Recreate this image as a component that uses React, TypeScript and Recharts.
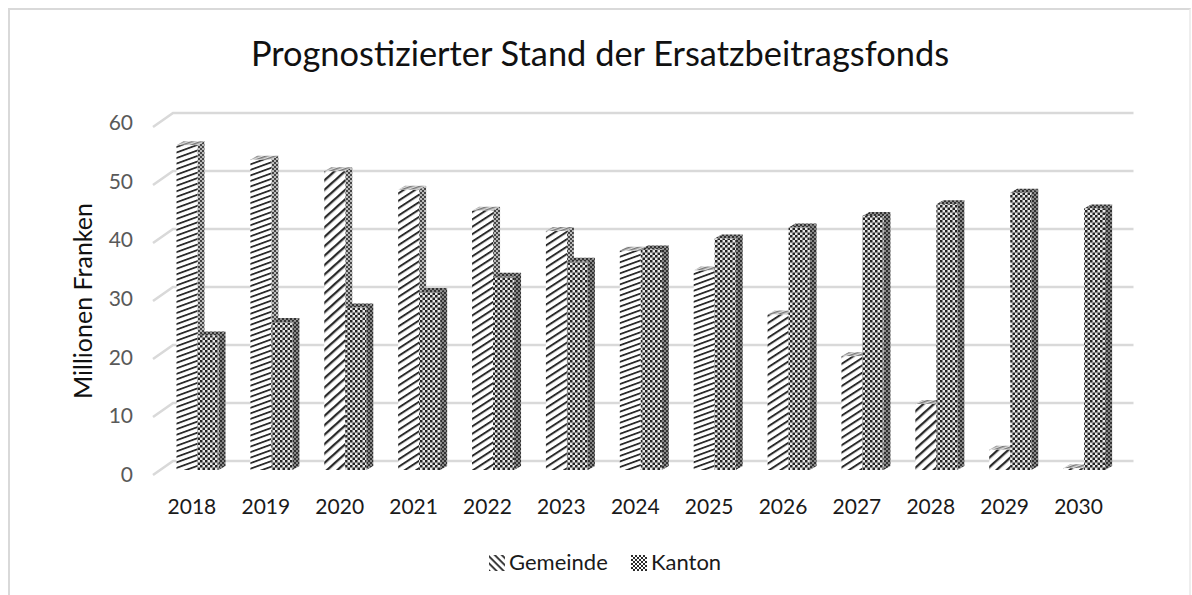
import React from "react";
import { BarChart, Bar, XAxis, YAxis, CartesianGrid, Legend } from "recharts";

const years = ["2018","2019","2020","2021","2022","2023","2024","2025","2026","2027","2028","2029","2030"];
const gemeinde = [56.0,53.5,51.5,48.3,44.7,41.2,37.8,34.4,26.8,19.6,11.4,3.5,0.3];
const kanton = [23.2,25.5,28.0,30.7,33.3,35.9,38.0,39.9,41.8,43.8,45.8,47.8,45.1];
const yTicks = [0,10,20,30,40,50,60];
const titleText = "Prognostizierter Stand der Ersatzbeitragsfonds";
const yTitle = "Millionen Franken";
const seriesNames = ["Gemeinde","Kanton"];

const rows = years.map((year, i) => ({ year, Gemeinde: gemeinde[i], Kanton: kanton[i] }));

const FONT = "Lato, Carlito, sans-serif";
const hatchByIndex = ["a","a","c","b","b","b","a","a","b","b","c","c","c"];
const DX = 7, DY = 4;

const Bar3D = (p: any) => {
  const { x, y, width: w, height: h, index, dataKey } = p;
  if (h == null) return null;
  const isG = dataKey === "Gemeinde";
  const front = isG ? `url(#hatch-${hatchByIndex[index]})` : "url(#checker)";
  const side = isG ? "url(#sideG)" : "url(#sideK)";
  const top = isG ? "url(#topG)" : "url(#sideK)";
  return (
    <g filter="url(#soft)">
      <path d={`M${x},${y}L${x+DX},${y-DY}L${x+w+DX},${y-DY}L${x+w},${y}Z`} fill={top} />
      <path d={`M${x+w},${y}L${x+w+DX},${y-DY}L${x+w+DX},${y+h-DY}L${x+w},${y+h}Z`} fill={side} />
      <rect x={x} y={y} width={w} height={h} fill={front} />
    </g>
  );
};

const GridLine = (p: any) => {
  const { x1, x2, y1 } = p;
  return (
    <path
      d={`M${x1-7.5},${y1+5}L${x1+12.5},${y1-9}L${x2+12.5},${y1-9}`}
      fill="none" stroke="#d9d9d9" strokeWidth={2.6}
    />
  );
};

const YTick = (p: any) => {
  const { y, payload } = p;
  return (
    <text x={133} y={y + 1 + (y - 122) * (4 / 348) + 7} textAnchor="end" fontFamily={FONT} fontSize={21} fill="#595959">
      {payload.value}
    </text>
  );
};

const XTick = (p: any) => {
  const { x, payload } = p;
  return (
    <text x={x - 5.5} y={514} textAnchor="middle" fontFamily={FONT} fontSize={21} fill="#1a1a1a">
      {payload.value}
    </text>
  );
};

const LegendBox = () => (
  <div style={{ position: "relative", height: 30, fontFamily: FONT, fontSize: 22, color: "#1a1a1a" }}>
    <svg width={16} height={16} style={{ position: "absolute", left: 489, top: 7 }}>
      <rect width={16} height={16} fill="url(#legendG)" />
    </svg>
    <span style={{ position: "absolute", left: 509, top: 1, lineHeight: "26px" }}>{seriesNames[0]}</span>
    <svg width={16} height={16} style={{ position: "absolute", left: 631, top: 7 }}>
      <rect width={16} height={16} fill="url(#legendK)" />
    </svg>
    <span style={{ position: "absolute", left: 651, top: 1, lineHeight: "26px" }}>{seriesNames[1]}</span>
  </div>
);

const stripes = (id: string, period: number, thick: number, angle: number, color = "#2a2a2a", bg = "#fff") => (
  <pattern id={id} patternUnits="userSpaceOnUse" width={period} height={period} patternTransform={`rotate(${angle})`}>
    <rect width={period} height={period} fill={bg} />
    <rect width={period} height={thick} fill={color} />
  </pattern>
);
const checker = (id: string, s: number, color: string, bg: string) => (
  <pattern id={id} patternUnits="userSpaceOnUse" width={s * 2} height={s * 2}>
    <rect width={s * 2} height={s * 2} fill={bg} />
    <rect width={s} height={s} fill={color} />
    <rect x={s} y={s} width={s} height={s} fill={color} />
  </pattern>
);

export default function App() {
  return (
    <div style={{ position: "absolute", left: 0, top: 0, width: 1192, height: 595, background: "#fff", overflow: "hidden" }}>
      <div style={{ position: "absolute", left: 8, top: 8, width: 1183, height: 600, border: "2px solid #d9d9d9", borderRightColor: "#eeeeee", boxSizing: "border-box" }} />
      <BarChart
        width={1192}
        height={595}
        data={rows}
        margin={{ top: 122, right: 71, bottom: 65, left: 101.5 }}
        barSize={21}
        barGap={0}
        style={{ position: "absolute", left: 0, top: 0 }}
      >
        <defs>
          <filter id="soft" x="-10%" y="-10%" width="120%" height="120%">
            <feGaussianBlur stdDeviation="0.35" />
          </filter>
          {stripes("hatch-a", 5.2, 1.8, -20)}
          {stripes("hatch-b", 6.2, 2, -33)}
          {stripes("hatch-c", 7, 2.3, -42)}
          {stripes("legendG", 5, 1.8, 45)}
          {stripes("topG", 3, 1.5, -20, "#777", "#ddd")}
          {checker("checker", 2.5, "#222222", "#e8e8e8")}
          {checker("legendK", 2, "#2b2b2b", "#ffffff")}
          {checker("sideG", 2, "#444", "#bbb")}
          {checker("sideK", 2, "#333", "#888")}
        </defs>
        <CartesianGrid vertical={false} horizontal={GridLine as any} />
        <XAxis dataKey="year" axisLine={false} tickLine={false} tick={XTick as any} interval={0} height={30} />
        <YAxis domain={[0, 60]} ticks={yTicks} width={59} axisLine={false} tickLine={false} tick={YTick as any} />
        <Legend verticalAlign="bottom" height={30} content={LegendBox as any} wrapperStyle={{ left: 0, width: 1192, top: 548 }} />
        <Bar dataKey="Gemeinde" shape={Bar3D} isAnimationActive={false} />
        <Bar dataKey="Kanton" shape={Bar3D} isAnimationActive={false} />
        <text x={600} y={66} textAnchor="middle" fontFamily={FONT} fontSize={34.4} fill="#111">{titleText}</text>
        <text transform="translate(92,301) rotate(-90)" textAnchor="middle" fontFamily={FONT} fontSize={25} fill="#111">{yTitle}</text>
      </BarChart>
    </div>
  );
}
